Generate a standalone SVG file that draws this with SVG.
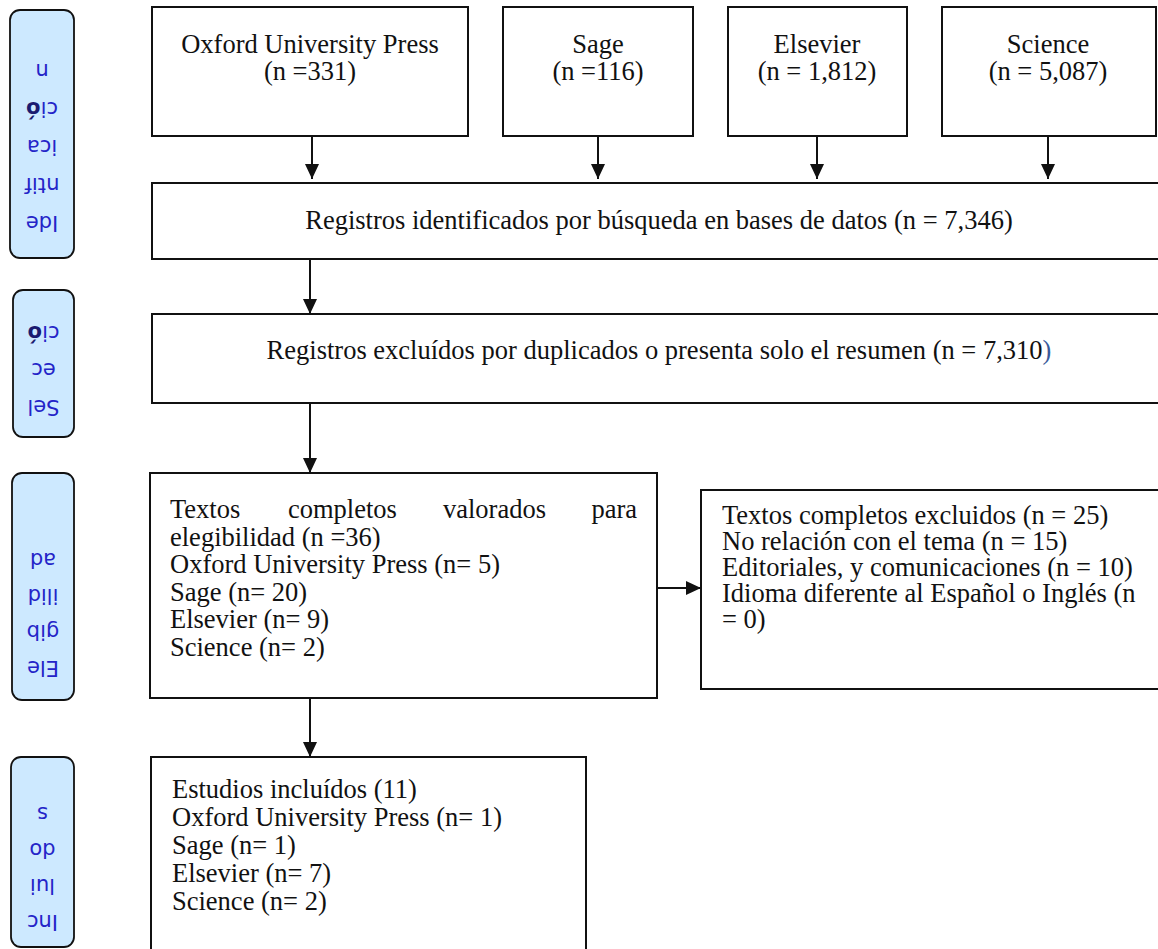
<svg xmlns="http://www.w3.org/2000/svg" width="1158" height="949" viewBox="0 0 1158 949">
<style>
.box{fill:#fff;stroke:#111;stroke-width:2}
.lbl{fill:#cde9ff;stroke:#111;stroke-width:1.8}
.t{font-family:"Liberation Serif","Times New Roman",serif;font-size:26.5px;fill:#111}
.c{text-anchor:middle}
.lt{font-family:"DejaVu Sans",Verdana,sans-serif;font-size:21px;fill:#2424c8;text-anchor:middle}
.b{font-weight:bold;fill:#1a1a70}
.con{stroke:#111;stroke-width:2;fill:none;marker-end:url(#ah)}
</style>
<defs>
<marker id="ah" markerWidth="15" markerHeight="14" refX="15" refY="7" orient="auto" markerUnits="userSpaceOnUse">
<path d="M0,0 L15,7 L0,14 z" fill="#111"/>
</marker>
</defs>
<rect width="1158" height="949" fill="#fff"/>

<g id="lbl-identificacion" transform="rotate(180 42 134)">
<rect class="lbl" x="10" y="10" width="64" height="248" rx="10"/>
<text class="lt" x="42" y="52">Ide</text>
<text class="lt" x="42" y="90">ntif</text>
<text class="lt" x="42" y="128">ica</text>
<text class="lt" x="42" y="166">ci<tspan class="b">ó</tspan></text>
<text class="lt" x="42" y="204">n</text>
</g>
<g id="lbl-seleccion" transform="rotate(180 43.5 363.5)">
<rect class="lbl" x="13" y="290" width="61" height="147" rx="10"/>
<text class="lt" x="43.5" y="327">Sel</text>
<text class="lt" x="43.5" y="364">ec</text>
<text class="lt" x="43.5" y="401">ci<tspan class="b">ó</tspan></text>
</g>
<g id="lbl-elegibilidad" transform="rotate(180 43 586.5)">
<rect class="lbl" x="12" y="473" width="62" height="227" rx="10"/>
<text class="lt" x="43" y="512">Ele</text>
<text class="lt" x="43" y="548">gib</text>
<text class="lt" x="43" y="584">ilid</text>
<text class="lt" x="43" y="620">ad</text>
</g>
<g id="lbl-incluidos" transform="rotate(180 42.5 852)">
<rect class="lbl" x="11" y="757" width="63" height="190" rx="10"/>
<text class="lt" x="42.5" y="789">Inc</text>
<text class="lt" x="42.5" y="825">lui</text>
<text class="lt" x="42.5" y="861">do</text>
<text class="lt" x="42.5" y="897">s</text>
</g>

<g id="oxford">
<rect class="box" x="152" y="7" width="316" height="129"/>
<text class="t c" x="310" y="53">Oxford University Press</text>
<text class="t c" x="310" y="80">(n =331)</text>
</g>
<g id="sage">
<rect class="box" x="503" y="7" width="190" height="129"/>
<text class="t c" x="598" y="53">Sage</text>
<text class="t c" x="598" y="80">(n =116)</text>
</g>
<g id="elsevier">
<rect class="box" x="728" y="7" width="179" height="129"/>
<text class="t c" x="817" y="53">Elsevier</text>
<text class="t c" x="817" y="80">(n = 1,812)</text>
</g>
<g id="science">
<rect class="box" x="942" y="7" width="214" height="129"/>
<text class="t c" x="1048" y="53">Science</text>
<text class="t c" x="1048" y="80">(n = 5,087)</text>
</g>
<g id="identificados">
<rect class="box" x="152" y="183" width="1020" height="76"/>
<text class="t c" x="659" y="229">Registros identificados por búsqueda en bases de datos (n = 7,346)</text>
</g>
<g id="excluidos-dup">
<rect class="box" x="152" y="314" width="1020" height="89"/>
<text class="t c" x="659" y="359">Registros excluídos por duplicados o presenta solo el resumen (n = 7,310<tspan fill="#3a5a9a">)</tspan></text>
</g>
<g id="valorados">
<rect class="box" x="150" y="473" width="507" height="225"/>
<text class="t" x="170" y="518">Textos</text>
<text class="t" x="288" y="518">completos</text>
<text class="t" x="443" y="518">valorados</text>
<text class="t" x="637" y="518" text-anchor="end">para</text>
<text class="t" x="170" y="546">elegibilidad (n =36)</text>
<text class="t" x="170" y="573">Oxford University Press (n= 5)</text>
<text class="t" x="170" y="601">Sage (n= 20)</text>
<text class="t" x="170" y="628">Elsevier (n= 9)</text>
<text class="t" x="170" y="656">Science (n= 2)</text>
</g>
<g id="excluidos-texto">
<rect class="box" x="701" y="490" width="480" height="199"/>
<text class="t" x="722" y="524">Textos completos excluidos (n = 25)</text>
<text class="t" x="722" y="550">No relación con el tema (n = 15)</text>
<text class="t" x="722" y="576">Editoriales, y comunicaciones (n = 10)</text>
<text class="t" x="722" y="602">Idioma diferente al Español o Inglés (n</text>
<text class="t" x="722" y="628">= 0)</text>
</g>
<g id="incluidos">
<rect class="box" x="151" y="757" width="435" height="210"/>
<text class="t" x="172" y="798">Estudios incluídos (11)</text>
<text class="t" x="172" y="826">Oxford University Press (n= 1)</text>
<text class="t" x="172" y="854">Sage (n= 1)</text>
<text class="t" x="172" y="882">Elsevier (n= 7)</text>
<text class="t" x="172" y="910">Science (n= 2)</text>
</g>

<g id="connectors">
<path class="con" d="M312,136 L312,179"/>
<path class="con" d="M598,136 L598,179"/>
<path class="con" d="M817,136 L817,179"/>
<path class="con" d="M1048,136 L1048,179"/>
<path class="con" d="M310,259 L310,314"/>
<path class="con" d="M310,403 L310,473"/>
<path class="con" d="M657,588 L701,588"/>
<path class="con" d="M310,698 L310,757"/>
</g>
</svg>
